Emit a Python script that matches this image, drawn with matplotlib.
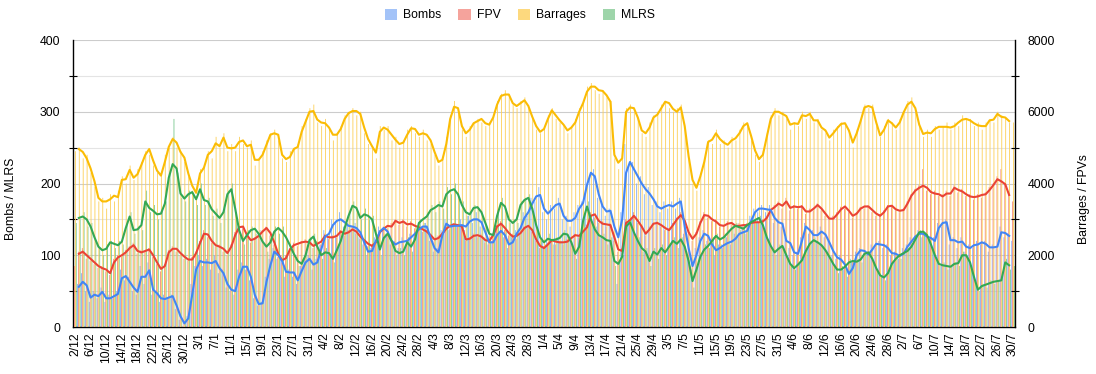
import numpy as np
import pandas as pd
import matplotlib
matplotlib.use("Agg")
import matplotlib.pyplot as plt
from matplotlib.patches import Patch

plt.rcParams['font.family'] = ['Liberation Sans', 'DejaVu Sans']

# ---------------- data ----------------
dates = pd.date_range('2024-12-02', '2025-07-30', freq='D')   # 241 days
date_labels = [f"{d.day}/{d.month}" for d in dates]

bombs_daily = [50,
 60,75,50,35,50,40,55,35,45,40, 50,80,65,70,50,45,85,60,90,45,
 50,35,45,40,45,25,10,0,15,60, 85,100,85,95,80,100,75,80,55,50,
 45,80,90,80,65,40,30,35,70,95, 110,95,100,70,80,70,60,85,95,100,
 80,95,115,135,125,150,145,160,140,145, 135,145,125,115,100,110,125,140,135,130,
 115,120,110,125,115,130,125,140,135,145, 120,105,110,135,150,135,145,140,150,135,
 155,145,160,140,125,115,120,135,130,125, 110,125,135,130,160,155,180,175,195,160,
 150,170,165,180,150,155,140,160,170,175, 250,210,220,180,175,155,165,130,60,160,
 255,225,230,200,210,185,195,170,175,160, 175,165,175,165,180,130,100,80,110,125,
 135,120,120,100,115,110,125,115,130,125, 140,130,155,165,160,170,160,170,145,150,
 140,125,110,100,105,125,145,130,135,120, 140,125,120,100,95,100,80,70,90,105,
 110,100,105,115,110,120,110,115,100,105, 95,110,115,125,120,135,125,130,120,125,
 145,140,150,115,125,110,125,105,115,110, 120,115,120,105,115,110,140,125,130,
 120]

fpv_daily = [1700,
 2100,2200,1900,1850,1750,1650,1700,1550,1450,1900, 2000,1950,2150,2250,2350,2050,2150,2100,2200,1950,
 1750,1550,1750,2150,2250,2100,2000,1900,1850,1950, 2100,2400,2700,2500,2350,2250,2300,2100,2000,2300,
 2650,2850,2750,2500,2350,2500,2600,2700,2800,2550, 2300,1950,1800,2000,2200,2350,2250,2400,2450,2300,
 2200,2400,2300,2600,2450,2550,2500,2700,2550,2700, 2800,2600,2450,2400,2250,2300,2400,2700,2800,2750,
 2900,3000,2850,3000,2800,2950,2750,2850,2650,2700, 2500,2400,2550,2650,2800,2750,2900,2800,2850,2400,
 2500,2600,2500,2600,2350,2450,2600,2850,2950,2700, 2550,2600,2450,2700,2800,2750,2650,2400,2200,2250,
 2350,2450,2300,2400,2300,2450,2400,2600,2500,2700, 2850,3200,3050,2900,2950,2800,2900,2400,2100,2200,
 3000,2900,3200,2900,2850,2550,2800,2850,2950,2800, 2700,2750,2900,3050,3200,2900,2600,2400,2650,2950,
 3200,3050,2950,3000,2800,2850,2950,2850,2800,2900, 2800,2900,2850,2950,2900,3000,3100,3300,3400,3500,
 3300,3600,3250,3400,3300,3400,3150,3300,3250,3450, 3250,3100,3000,3100,3200,3350,3300,3200,3050,3200,
 3350,3300,3400,3200,3100,3150,3250,3400,3350,3250, 3200,3300,3500,3700,3850,3950,4400,3800,3700,3800,
 3650,3700,3800,3650,3950,3750,3850,3650,3700,3550, 3700,3600,3750,3900,4000,4200,4400,4000,3700,
 3500]

barrages_daily = [4900,
 5000,4700,4800,4300,3900,3500,3600,3300,3700,3500, 3800,4200,4000,4500,4100,4400,4600,4900,4800,4500,
 4300,4300,4800,5000,5300,5000,4900,4600,4200,3800, 3600,4400,4500,4900,4700,5300,5000,5400,4900,5100,
 4900,5300,5100,5000,5200,4500,4700,4900,5200,5400, 5500,5200,4700,4600,4900,5000,5100,5600,5800,6100,
 6200,5700,5600,5800,5500,5200,5400,5600,5900,6000, 6100,5900,6000,5400,5100,5000,4700,5600,5500,5600,
 5200,5300,5000,5200,5500,5600,5400,5300,5500,5200, 5100,4800,4500,4700,5300,5900,6300,6000,5500,5300,
 5600,5700,5800,5700,5600,5700,5900,6300,6500,6600, 6400,6200,6100,6300,6400,6100,5800,5500,5400,5600,
 5900,6100,5800,5700,5600,5400,5600,5800,6100,6300, 6700,6800,6600,6500,6600,6400,6300,4700,4400,4800,
 6100,6200,6000,5800,5400,5300,5700,5900,6000,6200, 6300,6100,6000,6100,6200,5500,4700,4000,3800,4300,
 4700,5200,5100,5500,5100,5200,5000,5300,5200,5500, 5700,5600,5200,4800,4600,4900,5400,5900,6100,5900,
 6000,5800,5500,5700,5600,6000,5800,6000,5700,5800, 5500,5400,5200,5500,5600,5700,5600,5400,5000,5500,
 5800,6200,6100,6200,5600,5300,5600,5800,5700,5500, 5800,6000,6300,6400,6000,5600,5300,5500,5300,5600,
 5500,5600,5700,5500,5700,5600,5900,5800,5800,5600, 5700,5500,5700,5800,5700,6000,5900,5800,5700,
 5700]

mlrs_daily = [145,
 150,160,140,145,120,110,100,115,120,110, 120,115,145,160,130,140,135,190,160,170,
 150,165,175,215,290,215,180,175,190,185, 170,200,170,180,155,165,145,165,190,200,
 160,130,115,135,140,130,135,115,105,125, 140,130,140,120,110,95,85,95,105,125,
 130,105,95,110,100,90,110,125,145,160, 175,160,150,165,150,155,125,100,130,125,
 115,100,110,100,125,105,130,150,145,160, 170,160,175,165,195,185,200,180,175,155,
 160,170,165,155,140,125,135,160,180,165, 145,150,145,175,180,185,160,135,120,115,
 130,115,125,120,135,125,110,95,120,155, 175,145,140,125,130,115,125,85,90,100,
 145,150,125,125,105,110,85,110,95,115, 100,115,125,110,125,105,85,55,85,100,
 115,110,125,130,115,130,135,140,145,135, 140,145,150,145,155,135,120,110,100,115,
 110,95,85,80,90,95,110,120,125,115, 110,105,95,85,75,85,80,95,90,95,
 90,105,100,90,80,70,65,80,90,100, 95,105,110,115,125,135,130,125,110,95,
 85,90,80,85,90,85,105,95,85,65, 50,60,55,65,60,65,70,95,80,
 85]

# smoothed (trend) lines, days 1..239
bombs_trend = [
 56,63,58,41,45,43,49,40,40,43, 46,68,71,63,55,49,70,70,79,52,
 47,40,39,41,43,30,15,5,12,45, 80,92,90,90,89,92,82,75,60,52,
 50,70,84,84,70,45,32,33,63,86, 105,100,92,77,76,76,65,78,90,95,
 87,90,108,126,130,142,148,150,146,141, 140,138,132,118,105,106,120,133,138,133,
 120,115,118,119,120,125,130,136,140,140, 124,110,104,128,144,140,141,141,142,140,
 147,150,150,146,132,118,118,128,134,128, 115,118,130,138,152,160,172,182,184,165,
 158,164,170,172,155,148,148,152,165,173, 198,215,210,185,168,161,162,140,125,150,
 215,230,220,210,200,192,186,178,168,165, 168,170,168,172,175,140,110,85,100,120,
 130,127,115,107,110,114,117,119,123,130, 132,134,148,160,165,165,164,163,152,146,
 144,120,117,104,102,120,140,135,128,128, 133,129,118,106,97,94,87,74,82,100,
 107,106,101,108,116,115,114,110,103,102, 99,102,112,119,126,130,130,126,124,120,
 138,145,146,121,121,118,119,112,110,114, 115,118,116,111,111,112,132,131,127]

fpv_trend = [
 2040,2100,2000,1900,1800,1700,1640,1600,1500,1800, 1940,2000,2080,2200,2280,2120,2080,2120,2160,2000,
 1800,1620,1700,2080,2180,2180,2060,1960,1880,1880, 2060,2340,2600,2580,2400,2280,2240,2180,2060,2240,
 2560,2780,2800,2560,2420,2460,2540,2660,2760,2620, 2360,2040,1860,1920,2160,2280,2320,2360,2380,2360,
 2260,2320,2380,2540,2500,2500,2540,2660,2600,2640, 2720,2660,2520,2420,2320,2260,2360,2640,2740,2820,
 2800,2960,2900,2940,2860,2880,2820,2780,2720,2660, 2560,2440,2480,2600,2740,2820,2860,2840,2800,2440,
 2460,2540,2560,2520,2420,2400,2560,2800,2880,2760, 2620,2520,2540,2620,2760,2820,2700,2440,2260,2200,
 2300,2420,2380,2360,2360,2380,2480,2560,2540,2660, 2780,3100,3140,2960,2880,2860,2840,2500,2160,2120,
 2900,2980,3100,2960,2800,2600,2720,2880,2900,2840, 2760,2700,2840,3000,3120,2960,2640,2460,2600,2900,
 3120,3100,3000,2940,2840,2820,2880,2900,2820,2820, 2840,2840,2900,2920,2920,2940,3040,3260,3340,3440,
 3380,3500,3320,3360,3340,3360,3220,3220,3300,3400, 3300,3160,3020,3020,3140,3280,3360,3240,3100,3160,
 3300,3360,3360,3260,3160,3100,3200,3360,3380,3280, 3240,3260,3440,3660,3800,3880,3940,3880,3760,3720,
 3700,3640,3720,3720,3880,3820,3780,3700,3640,3620, 3640,3680,3700,3820,3960,4120,4060,3980,3680]

barrages_trend = [
 4960,4880,4700,4420,4060,3600,3500,3500,3560,3660, 3620,4100,4120,4380,4160,4260,4520,4800,4960,4640,
 4360,4220,4600,5020,5240,5140,4880,4720,4280,3940, 3740,4280,4440,4800,4900,5120,5040,5280,5000,4980,
 5000,5160,5200,5040,5080,4660,4660,4800,5080,5360, 5400,5360,4800,4680,4740,4960,5020,5440,5720,6000,
 6020,5780,5700,5680,5560,5360,5360,5520,5800,5960, 6020,6020,5940,5560,5240,5040,4860,5440,5560,5500,
 5360,5220,5100,5140,5360,5540,5520,5360,5400,5360, 5200,4880,4600,4660,5100,5800,6140,6100,5600,5400,
 5500,5680,5740,5800,5680,5640,5840,6200,6440,6480, 6480,6240,6160,6240,6320,6160,5860,5600,5440,5520,
 5800,6040,5900,5760,5640,5480,5560,5700,6000,6240, 6560,6700,6700,6600,6580,6460,6280,4800,4580,4700,
 6000,6120,6100,5840,5480,5400,5560,5840,5920,6100, 6280,6240,6080,6000,6120,5600,4760,4100,3880,4200,
 4600,5160,5220,5400,5240,5140,5080,5200,5260,5400, 5600,5680,5320,4920,4680,4800,5300,5800,6000,6000,
 5940,5880,5640,5680,5660,5900,5880,5940,5760,5760, 5560,5480,5280,5400,5540,5660,5680,5480,5140,5400,
 5740,6120,6160,6120,5700,5340,5500,5760,5680,5560, 5700,5980,6200,6280,6100,5640,5380,5420,5400,5520,
 5580,5580,5580,5560,5600,5700,5780,5800,5760,5680, 5620,5600,5600,5760,5780,5940,5860,5840,5740]

mlrs_trend = [
 152,154,150,140,125,112,107,109,118,116, 114,119,138,154,135,136,142,175,166,162,
 157,158,172,208,227,221,186,179,185,188, 178,192,177,175,164,158,152,160,185,192,
 165,135,120,128,135,137,130,119,112,118, 133,138,133,125,114,102,92,88,100,121,
 126,112,100,104,103,95,107,120,138,155, 169,166,152,157,155,150,130,108,124,130,
 120,106,103,105,118,112,122,145,150,154, 163,166,170,168,185,190,192,185,170,160,
 157,166,167,160,145,130,128,155,173,168, 150,145,150,170,177,180,165,142,125,118,
 123,121,122,124,130,129,118,102,112,148, 168,150,136,128,125,121,120,92,88,98,
 140,146,132,120,110,105,92,105,101,110, 104,112,120,116,122,112,92,64,80,98,
 108,113,120,127,122,125,131,137,141,139, 137,142,146,149,152,142,125,113,104,109,
 113,100,88,82,87,93,106,116,121,118, 114,107,98,88,80,80,84,90,92,91,
 94,102,104,95,82,72,69,75,88,95, 100,103,106,112,122,132,133,128,115,100,
 88,86,85,84,88,89,100,100,90,70, 52,57,59,61,63,64,65,90,86]

series_names = ['Bombs', 'FPV', 'Barrages', 'MLRS']
legend_colors = ['#a3c3f8', '#f5a39c', '#fdd97e', '#9ed5aa']
bar_colors = ['#86b0f6', '#f28a80', '#fcd05a', '#7cc891']
line_colors = ['#4285f4', '#ea4335', '#fbbc04', '#34a853']

# ---------------- figure ----------------
W, H = 1096, 374
fig = plt.figure(figsize=(W / 100, H / 100), dpi=100)
L, R, T, B = 73, 1015, 40, 327
ax1 = fig.add_axes([L / W, 1 - B / H, (R - L) / W, (B - T) / H])
ax2 = ax1.twinx()
ax3 = ax1.twinx()
ax4 = ax1.twinx()

x = np.arange(len(dates))
xl = x[1:1 + len(bombs_trend)]
bw = 0.22

bar_kw = dict(linewidth=0, snap=False, antialiased=True)
ax1.bar(x - 1.5 * bw, bombs_daily, bw, color=bar_colors[0], **bar_kw)
ax2.bar(x - 0.5 * bw, fpv_daily, bw, color=bar_colors[1], **bar_kw)
ax2.bar(x + 0.5 * bw, barrages_daily, bw, color=bar_colors[2], **bar_kw)
ax1.bar(x + 1.5 * bw, mlrs_daily, bw, color=bar_colors[3], **bar_kw)

lw = 1.5
ax3.plot(xl, fpv_trend, color=line_colors[1], lw=lw, solid_joinstyle='round')
ax3.plot(xl, barrages_trend, color=line_colors[2], lw=lw, solid_joinstyle='round')
ax4.plot(xl, bombs_trend, color=line_colors[0], lw=lw, solid_joinstyle='round')
ax4.plot(xl, mlrs_trend, color=line_colors[3], lw=lw, solid_joinstyle='round')

for a in (ax1, ax2, ax3, ax4):
    a.set_xlim(-0.5, len(dates) - 0.5)
ax1.set_ylim(0, 400); ax4.set_ylim(0, 400)
ax2.set_ylim(0, 8000); ax3.set_ylim(0, 8000)

# grid
ax1.set_axisbelow(True)
ax1.set_yticks([0, 100, 200, 300, 400])
ax1.set_yticks([50, 150, 250, 350], minor=True)
ax1.grid(axis='y', which='major', color='#cccccc', lw=0.8)
ax1.grid(axis='y', which='minor', color='#e4e4e4', lw=0.8)

# spines
for s in ('top', 'right'):
    ax1.spines[s].set_visible(False)
ax1.spines['left'].set_linewidth(1.0)
ax1.spines['bottom'].set_linewidth(1.0)
for s in ('top', 'left', 'bottom'):
    ax2.spines[s].set_visible(False)
ax2.spines['right'].set_linewidth(1.0)
for a in (ax3, ax4):
    for s in a.spines.values():
        s.set_visible(False)
    a.set_yticks([])
    a.tick_params(axis='x', length=0, labelbottom=False)

fs = 8.8
ax1.tick_params(axis='y', which='major', length=0, pad=9, labelsize=fs)
ax1.tick_params(axis='y', which='minor', direction='inout', length=6, width=0.8, color='black')
ax2.set_yticks([0, 2000, 4000, 6000, 8000])
ax2.set_yticks([1000, 3000, 5000, 7000], minor=True)
ax2.tick_params(axis='y', which='major', length=0, pad=9, labelsize=fs)
ax2.tick_params(axis='y', which='minor', direction='inout', length=6, width=0.8, color='black')

ax1.set_xticks(x[::4])
ax1.set_xticklabels(date_labels[::4], rotation=90, fontsize=fs)
ax1.tick_params(axis='x', length=0, pad=4)
ax2.tick_params(axis='x', length=0)

ax1.set_ylabel('Bombs / MLRS', fontsize=fs)
ax1.yaxis.set_label_coords(-0.059, 0.446)
ax2.set_ylabel('Barrages / FPVs', fontsize=fs, rotation=90)
ax2.yaxis.set_label_coords(1.067, 0.446)

handles = [Patch(facecolor=c, edgecolor='none') for c in legend_colors]
fig.legend(handles, series_names, loc='center', bbox_to_anchor=(520 / W, 1 - 15 / H),
           ncol=4, frameon=False, fontsize=fs, handlelength=1.0, handleheight=1.0,
           handletextpad=0.5, columnspacing=1.4)

fig.savefig('out.png', dpi=100)
